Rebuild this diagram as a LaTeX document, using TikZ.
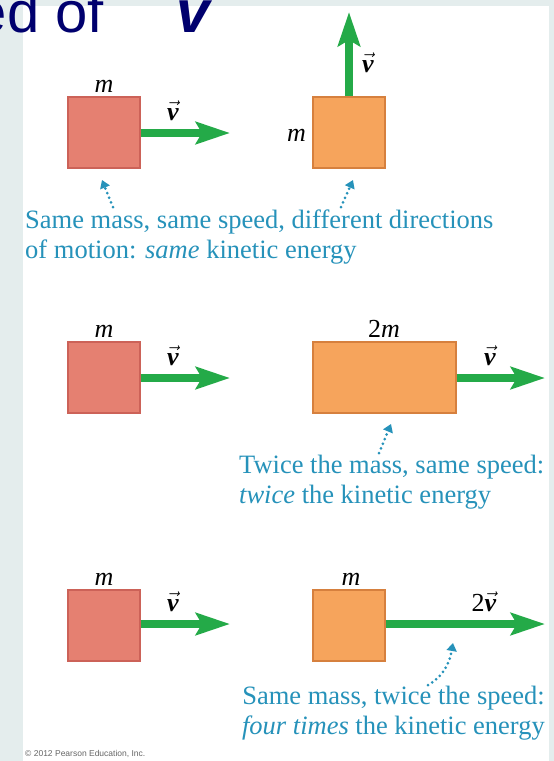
\documentclass[tikz,border=0pt]{standalone}
\usepackage{amsmath}
\usepackage{fontspec}
\usepackage{tikz}
\usepackage{xcolor}
\setmainfont{Liberation Serif}
\newfontfamily\titlefont{Liberation Sans}
\usetikzlibrary{arrows.meta,positioning}

\definecolor{slidebg}{RGB}{228,237,237}
\definecolor{titleblue}{RGB}{0,0,110}
\definecolor{blockred}{RGB}{229,128,113}
\definecolor{blockredline}{RGB}{204,98,88}
\definecolor{blockorange}{RGB}{246,164,92}
\definecolor{blockorangeline}{RGB}{214,128,62}
\definecolor{velgreen}{RGB}{36,170,72}
\definecolor{notecyan}{RGB}{38,146,186}

\newcommand{\velv}{$\vec{\text{\bfseries\itshape v}}$}

\tikzset{
  redblock/.style={draw=blockredline, fill=blockred, line width=1.2pt,
    minimum width=72pt, minimum height=71pt, inner sep=0pt},
  orangeblock/.style={draw=blockorangeline, fill=blockorange, line width=1.2pt,
    minimum height=71pt, inner sep=0pt},
  velarrow/.style={draw=velgreen, line width=8pt,
    -{Stealth[length=34pt,width=22pt,inset=6pt]}},
  pointer/.style={draw=notecyan, line width=3pt, line cap=round,
    dash pattern=on 0pt off 5pt, -{Triangle[length=8pt,width=10pt]}},
  lbl/.style={font=\fontsize{26}{26}\selectfont, inner sep=0pt, anchor=base},
  note/.style={text=notecyan, font=\fontsize{26.5}{30}\selectfont, inner sep=0pt}
}

\begin{document}
\begin{tikzpicture}[x=1pt, y=-1pt]
    \useasboundingbox (0,0) rectangle (554,761);
    \clip (0,0) rectangle (554,761);
    % slide background
    \fill[slidebg] (0,0) rectangle (554,761);
    \fill[white] (23,6) rectangle (549,761);
    % title remnant
    \node[text=titleblue, font=\titlefont\fontsize{58}{58}\selectfont,
          inner sep=0pt, anchor=base east] (ttl) at (104,32) {ed of};
    \node[text=titleblue, font=\titlefont\fontsize{60}{60}\selectfont\bfseries\itshape,
          inner sep=0pt, anchor=base west] (ttlv) at (176,32) {v};

    % row 1: same mass, same speed
    \node[redblock] (r1) at (104,132.5) {};
    \node[lbl] (r1m) at (104,92) {\itshape m};
    \coordinate (r1tip) at (230,133);
    \draw[velarrow] (r1.east |- r1tip) -- (r1tip);
    \node[lbl] (r1v) at (173,120) {\velv};
    \node[orangeblock, minimum width=72pt] (o1) at (349,132.5) {};
    \node[lbl, anchor=base east] (o1m) at (306,141) {\itshape m};
    \coordinate (o1tip) at (349,12);
    \draw[velarrow] (o1.north) -- (o1tip);
    \node[lbl] (o1v) at (368,72) {\velv};
    \node[note, align=left, anchor=base west] (cap1) at (25,258)
      {Same mass, same speed, different directions\\of motion: \textit{same} kinetic energy};
    \coordinate (p1a) at (113,207);
    \coordinate (p1b) at (341,207);
    \draw[pointer] (p1a) -- (102,180);
    \draw[pointer] (p1b) -- (353,180);

    % row 2: twice the mass
    \node[redblock] (r2) at (104,377.5) {};
    \node[lbl] (r2m) at (104,337) {\itshape m};
    \coordinate (r2tip) at (230,378);
    \draw[velarrow] (r2.east |- r2tip) -- (r2tip);
    \node[lbl] (r2v) at (173,365) {\velv};
    \node[orangeblock, minimum width=143pt] (o2) at (384.5,377.5) {};
    \node[lbl] (o2m) at (384,337) {2\itshape m};
    \coordinate (o2tip) at (545,378);
    \draw[velarrow] (o2.east |- o2tip) -- (o2tip);
    \node[lbl] (o2v) at (490,365) {\velv};
    \node[note, align=left, anchor=base west] (cap2) at (239,503)
      {Twice the mass, same speed:\\\textit{twice} the kinetic energy};
    \coordinate (p2) at (379,453);
    \draw[pointer] (p2) -- (391,424);

    % row 3: twice the speed
    \node[redblock] (r3) at (104,625.5) {};
    \node[lbl] (r3m) at (104,585) {\itshape m};
    \coordinate (r3tip) at (230,624);
    \draw[velarrow] (r3.east |- r3tip) -- (r3tip);
    \node[lbl] (r3v) at (173,611) {\velv};
    \node[orangeblock, minimum width=72pt] (o3) at (349,625.5) {};
    \node[lbl] (o3m) at (351,585) {\itshape m};
    \coordinate (o3tip) at (545,624);
    \draw[velarrow] (o3.east |- o3tip) -- (o3tip);
    \node[lbl] (o3v) at (484,611) {2\velv};
    \node[note, align=right, anchor=base east] (cap3) at (545,734)
      {Same mass, twice the speed:\\\textit{four times} the kinetic energy};
    \coordinate (p3) at (428,685);
    \draw[pointer] (p3) to[out=30,in=-100] (453,643);

    % credit line
    \node[font=\titlefont\fontsize{8.5}{8.5}\selectfont, text=black!60,
          inner sep=0pt, anchor=base west] (credit) at (25,756)
      {\textcopyright{} 2012 Pearson Education, Inc.};
  \end{tikzpicture}
\end{document}
